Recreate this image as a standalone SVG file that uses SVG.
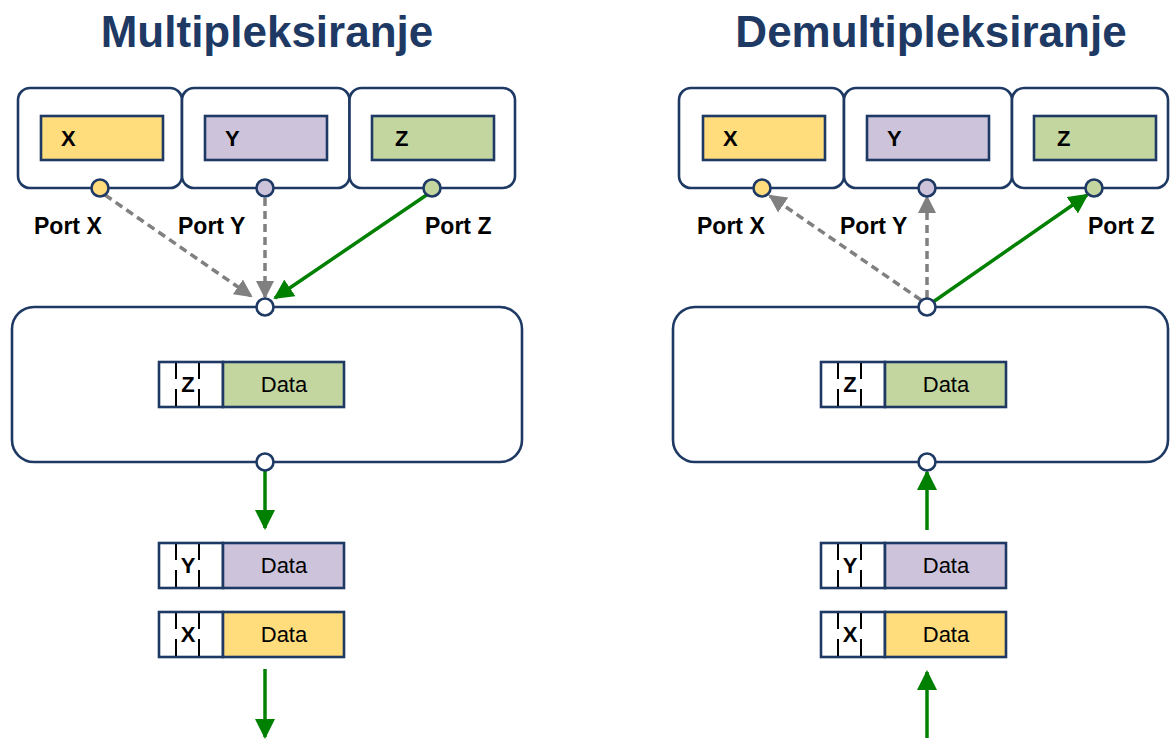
<svg xmlns="http://www.w3.org/2000/svg" width="1170" height="744" viewBox="0 0 1170 744">
  <style>
    .title { font-family: "Liberation Sans", Arial, sans-serif; font-weight: bold; font-size: 44px; fill: #1E3A64; text-anchor: middle; }
    .box { fill: #FFFFFF; stroke: #1E3A64; stroke-width: 2.6; }
    .app { stroke: #1E3A64; stroke-width: 2.6; }
    .lbl { font-family: "Liberation Sans", Arial, sans-serif; font-weight: bold; font-size: 22px; fill: #000; }
    .port-lbl { font-family: "Liberation Sans", Arial, sans-serif; font-weight: bold; font-size: 23px; fill: #000; }
    .data { font-family: "Liberation Sans", Arial, sans-serif; font-size: 22px; fill: #000; text-anchor: middle; }
    .hdr { font-family: "Liberation Sans", Arial, sans-serif; font-weight: bold; font-size: 22px; fill: #000; text-anchor: middle; }
    .pkt { stroke: #1E3A64; stroke-width: 2.6; }
    .tick { stroke: #000; stroke-width: 2; }
    .port { stroke: #1E3A64; stroke-width: 2.6; }
    .yellow { fill: #FFDC7C; }
    .purple { fill: #CDC3DA; }
    .green { fill: #C4D6A0; }
    .white { fill: #FFFFFF; }
    .gray-dash { stroke: #808080; stroke-width: 3.5; stroke-dasharray: 8 5; fill: none; }
    .green-line { stroke: #008000; stroke-width: 3.5; fill: none; }
  </style>
  <defs>
    <marker id="head-gray" viewBox="0 0 18 18" refX="16" refY="9" markerWidth="18" markerHeight="18" markerUnits="userSpaceOnUse" orient="auto">
      <path d="M0,0 L18,9 L0,18 z" fill="#808080"/>
    </marker>
    <marker id="head-green" viewBox="0 0 20 20" refX="18" refY="10" markerWidth="20" markerHeight="20" markerUnits="userSpaceOnUse" orient="auto">
      <path d="M0,0 L20,10 L0,20 z" fill="#008000"/>
    </marker>
    <!-- packet: header cell with address letter between two split ticks, then payload -->
    <g id="pkt-head">
      <rect class="pkt white" x="0" y="0" width="64" height="45"/>
      <line class="tick" x1="17" y1="1" x2="17" y2="17"/>
      <line class="tick" x1="17" y1="27" x2="17" y2="44"/>
      <line class="tick" x1="40" y1="1" x2="40" y2="17"/>
      <line class="tick" x1="40" y1="27" x2="40" y2="44"/>
    </g>
  </defs>

  <rect width="1170" height="744" fill="#FFFFFF"/>

  <!-- headings -->
  <text class="title" x="267" y="47">Multipleksiranje</text>
  <text class="title" x="931" y="47">Demultipleksiranje</text>

  <!-- connectors -->
  <g id="connectors">
    <line class="gray-dash" x1="105" y1="195" x2="251" y2="296" marker-end="url(#head-gray)"/>
    <line class="gray-dash" x1="265" y1="198" x2="265" y2="297" marker-end="url(#head-gray)"/>
    <line class="green-line" x1="428" y1="194" x2="275" y2="298" marker-end="url(#head-green)"/>
    <line class="green-line" x1="265" y1="470" x2="265" y2="528" marker-end="url(#head-green)"/>
    <line class="green-line" x1="265" y1="669" x2="265" y2="737" marker-end="url(#head-green)"/>

    <line class="gray-dash" x1="921" y1="300" x2="770" y2="196" marker-end="url(#head-gray)"/>
    <line class="gray-dash" x1="927" y1="298" x2="927" y2="197" marker-end="url(#head-gray)"/>
    <line class="green-line" x1="933" y1="302" x2="1087" y2="195" marker-end="url(#head-green)"/>
    <line class="green-line" x1="927" y1="530" x2="927" y2="472" marker-end="url(#head-green)"/>
    <line class="green-line" x1="927" y1="738" x2="927" y2="672" marker-end="url(#head-green)"/>
  </g>

  <!-- multiplexing side -->
  <g id="mux-app-x">
    <rect class="box" x="18" y="88" width="164" height="100" rx="12"/>
    <rect class="app yellow" x="41" y="116" width="122" height="44"/>
    <text class="lbl" x="61" y="146">X</text>
    <circle class="port yellow" cx="100" cy="188" r="8.5"/>
    <text class="port-lbl" x="34" y="234">Port X</text>
  </g>
  <g id="mux-app-y">
    <rect class="box" x="182" y="88" width="167.5" height="100" rx="12"/>
    <rect class="app purple" x="205" y="116" width="122" height="44"/>
    <text class="lbl" x="225" y="146">Y</text>
    <circle class="port purple" cx="265" cy="188" r="8.5"/>
    <text class="port-lbl" x="178" y="234">Port Y</text>
  </g>
  <g id="mux-app-z">
    <rect class="box" x="349.5" y="88" width="165.5" height="100" rx="12"/>
    <rect class="app green" x="372" y="116" width="122" height="44"/>
    <text class="lbl" x="395" y="146">Z</text>
    <circle class="port green" cx="432" cy="188" r="8.5"/>
    <text class="port-lbl" x="425" y="234">Port Z</text>
  </g>
  <g id="mux-transport">
    <rect class="box" x="12" y="307" width="510" height="155" rx="22"/>
    <circle class="port white" cx="265" cy="307" r="8.5"/>
    <circle class="port white" cx="265" cy="462" r="8.5"/>
  </g>
  <g id="mux-pkt-z">
    <use href="#pkt-head" x="159" y="362"/>
    <rect class="pkt green" x="223" y="362" width="121" height="45"/>
    <text class="hdr" x="188" y="392">Z</text>
    <text class="data" x="284" y="392">Data</text>
  </g>
  <g id="mux-pkt-y">
    <use href="#pkt-head" x="159" y="543"/>
    <rect class="pkt purple" x="223" y="543" width="121" height="45"/>
    <text class="hdr" x="188" y="573">Y</text>
    <text class="data" x="284" y="573">Data</text>
  </g>
  <g id="mux-pkt-x">
    <use href="#pkt-head" x="159" y="612"/>
    <rect class="pkt yellow" x="223" y="612" width="121" height="45"/>
    <text class="hdr" x="188" y="642">X</text>
    <text class="data" x="284" y="642">Data</text>
  </g>

  <!-- demultiplexing side -->
  <g id="demux-app-x">
    <rect class="box" x="679" y="88" width="165" height="100" rx="12"/>
    <rect class="app yellow" x="703" y="116" width="122" height="44"/>
    <text class="lbl" x="723" y="146">X</text>
    <circle class="port yellow" cx="762" cy="188" r="8.5"/>
    <text class="port-lbl" x="697" y="234">Port X</text>
  </g>
  <g id="demux-app-y">
    <rect class="box" x="844" y="88" width="168" height="100" rx="12"/>
    <rect class="app purple" x="867" y="116" width="122" height="44"/>
    <text class="lbl" x="887" y="146">Y</text>
    <circle class="port purple" cx="927" cy="188" r="8.5"/>
    <text class="port-lbl" x="840" y="234">Port Y</text>
  </g>
  <g id="demux-app-z">
    <rect class="box" x="1012" y="88" width="156" height="100" rx="12"/>
    <rect class="app green" x="1034" y="116" width="122" height="44"/>
    <text class="lbl" x="1057" y="146">Z</text>
    <circle class="port green" cx="1094" cy="188" r="8.5"/>
    <text class="port-lbl" x="1088" y="234">Port Z</text>
  </g>
  <g id="demux-transport">
    <rect class="box" x="673" y="307" width="495" height="155" rx="22"/>
    <circle class="port white" cx="927" cy="307" r="8.5"/>
    <circle class="port white" cx="927" cy="462" r="8.5"/>
  </g>
  <g id="demux-pkt-z">
    <use href="#pkt-head" x="821" y="362"/>
    <rect class="pkt green" x="885" y="362" width="121" height="45"/>
    <text class="hdr" x="850" y="392">Z</text>
    <text class="data" x="946" y="392">Data</text>
  </g>
  <g id="demux-pkt-y">
    <use href="#pkt-head" x="821" y="543"/>
    <rect class="pkt purple" x="885" y="543" width="121" height="45"/>
    <text class="hdr" x="850" y="573">Y</text>
    <text class="data" x="946" y="573">Data</text>
  </g>
  <g id="demux-pkt-x">
    <use href="#pkt-head" x="821" y="612"/>
    <rect class="pkt yellow" x="885" y="612" width="121" height="45"/>
    <text class="hdr" x="850" y="642">X</text>
    <text class="data" x="946" y="642">Data</text>
  </g>
</svg>
